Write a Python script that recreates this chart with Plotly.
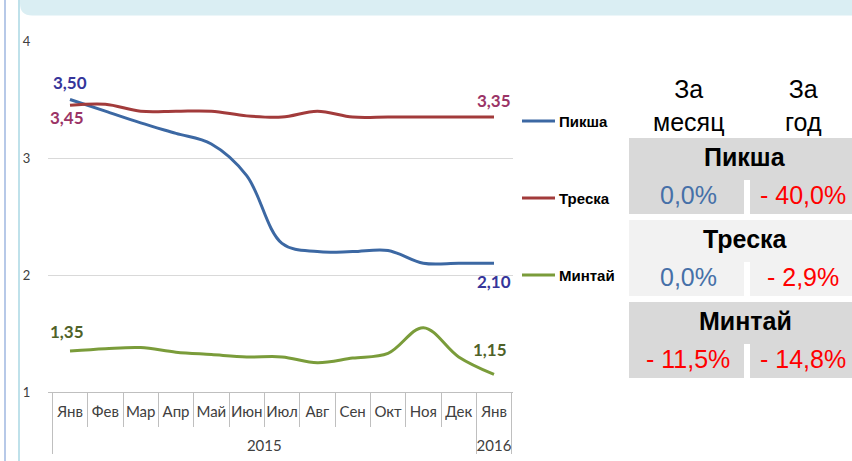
import plotly.graph_objects as go

# ---------------- data ----------------
months = ["Янв", "Фев", "Мар", "Апр", "Май", "Июн", "Июл", "Авг", "Сен", "Окт", "Ноя", "Дек", "Янв"]
years = ["2015"] * 12 + ["2016"]

piksha = [3.50, 3.40, 3.30, 3.21, 3.12, 2.85, 2.27, 2.20, 2.20, 2.21, 2.10, 2.10, 2.10]
treska = [3.45, 3.46, 3.40, 3.40, 3.40, 3.36, 3.35, 3.40, 3.35, 3.35, 3.35, 3.35, 3.35]
mintai = [1.35, 1.37, 1.38, 1.34, 1.32, 1.30, 1.30, 1.25, 1.29, 1.33, 1.55, 1.30, 1.15]

series_names = ["Пикша", "Треска", "Минтай"]
month_change = ["0,0%", "0,0%", "- 11,5%"]
year_change = ["- 40,0%", "- 2,9%", "- 14,8%"]

# ---------------- style ----------------
W, H = 852, 461
L, R, T, B = 48, 513, 41, 392   # plot area in px

line_colors = ["#3C68A3", "#A23B3B", "#7A9C3A"]
label_colors = ["#35359A", "#9B3466", "#4F6228"]
# (xshift, yshift) for first and last value labels
label_shift_first = [(0, 17), (-3, -12), (-3, 20)]
label_shift_last = [(0, -18), (0, 17), (-4, 25)]
series_values = [piksha, treska, mintai]


def px(x):
    return (x - L) / (R - L)


def py(y):
    return (B - y) / (B - T)


def fmt(v):
    return f"{v:.2f}".replace(".", ",")


fig = go.Figure()
# the year row sits one text line lower than its default position
xcats = [["<br>" + y for y in years], months]
annotations = []
for name, vals, lc, tc, s0, s1 in zip(series_names, series_values, line_colors,
                                      label_colors, label_shift_first, label_shift_last):
    fig.add_trace(go.Scatter(
        x=xcats, y=vals, name=name, mode="lines",
        line=dict(color=lc, width=3, shape="spline", smoothing=1.0),
        showlegend=False, hoverinfo="skip",
    ))
    for idx, (sx, sy) in [(0, s0), (len(vals) - 1, s1)]:
        annotations.append(dict(xref="x", yref="y", x=idx, y=vals[idx], text=f"<b>{fmt(vals[idx])}</b>",
                                showarrow=False, xanchor="center", yanchor="middle",
                                xshift=sx, yshift=sy,
                                font=dict(family="Lato", size=17, color=tc)))

shapes = []

# decorative frame: left vertical lines and top banner
shapes.append(dict(type="line", xref="paper", yref="paper", x0=px(5), x1=px(5), y0=py(-2), y1=py(H + 2),
                   line=dict(color="#B7C9E8", width=2)))
shapes.append(dict(type="line", xref="paper", yref="paper", x0=px(19), x1=px(19), y0=py(-2), y1=py(H + 2),
                   line=dict(color="#BFE1EA", width=2)))
rx, bot = 20, 15.5
path = (f"M {px(rx)},{py(-5)} L {px(W + 5)},{py(-5)} L {px(W + 5)},{py(bot)} "
        f"L {px(rx + 12)},{py(bot)} Q {px(rx)},{py(bot)} {px(rx)},{py(bot - 12)} Z")
shapes.append(dict(type="path", xref="paper", yref="paper", path=path,
                   fillcolor="#DAEEF3", line=dict(width=0), layer="below"))

# legend (custom positioned)
legend_y = [121, 198, 275]
for name, lc, yy in zip(series_names, line_colors, legend_y):
    shapes.append(dict(type="line", xref="paper", yref="paper", x0=px(522), x1=px(555),
                       y0=py(yy), y1=py(yy), line=dict(color=lc, width=3)))
    annotations.append(dict(xref="paper", yref="paper", x=px(557), y=py(yy), text=f"<b>{name}</b>",
                            showarrow=False, xanchor="left", yanchor="middle",
                            font=dict(family="Liberation Sans", size=15, color="#000000")))

# right-side table
col1, col2 = 688, 803
for txt, cx in [("За<br>месяц", col1), ("За<br>год", col2)]:
    annotations.append(dict(xref="paper", yref="paper", x=px(cx), y=py(105), text=txt,
                            showarrow=False, xanchor="center", yanchor="middle", align="center",
                            font=dict(family="Liberation Sans", size=25, color="#000000")))

block_tops = [138, 220, 302]
block_fill = ["#D9D9D9", "#F2F2F2", "#D9D9D9"]
for name, mc, yc, top, fill in zip(series_names, month_change, year_change, block_tops, block_fill):
    shapes.append(dict(type="rect", xref="paper", yref="paper", x0=px(629), x1=px(W + 5),
                       y0=py(top), y1=py(top + 76), fillcolor=fill, line=dict(width=0), layer="below"))
    shapes.append(dict(type="rect", xref="paper", yref="paper", x0=px(744), x1=px(750),
                       y0=py(top + 42), y1=py(top + 77), fillcolor="#FFFFFF", line=dict(width=0), layer="below"))
    annotations.append(dict(xref="paper", yref="paper", x=px(745), y=py(top + 19), text=f"<b>{name}</b>",
                            showarrow=False, xanchor="center", yanchor="middle",
                            font=dict(family="Liberation Sans", size=25, color="#000000")))
    for val, cx in [(mc, col1), (yc, col2)]:
        col = "#FF0000" if val.strip().startswith("-") else "#4670A8"
        annotations.append(dict(xref="paper", yref="paper", x=px(cx), y=py(top + 57), text=val,
                                showarrow=False, xanchor="center", yanchor="middle",
                                font=dict(family="Liberation Sans", size=25, color=col)))

fig.update_layout(
    width=W, height=H,
    margin=dict(l=L, r=W - R, t=T, b=H - B, pad=0, autoexpand=False),
    paper_bgcolor="#FFFFFF", plot_bgcolor="#FFFFFF",
    shapes=shapes, annotations=annotations,
    showlegend=False,
)
fig.update_yaxes(range=[1, 4], dtick=1, showgrid=True, gridcolor="#D9D9D9", gridwidth=1,
                 zeroline=False, showline=False, ticks="outside", ticklen=14, tickcolor="rgba(0,0,0,0)",
                 automargin=False,
                 tickfont=dict(family="Lato", size=13, color="#404040"), fixedrange=True)
fig.update_xaxes(type="multicategory", showline=True, linecolor="#BFBFBF", linewidth=1,
                 ticks="outside", tickson="boundaries", ticklen=34, tickcolor="#BFBFBF",
                 ticklabelstandoff=6, tickangle=0, automargin=False,
                 showdividers=True, dividercolor="#BFBFBF", dividerwidth=1,
                 showgrid=False, zeroline=False,
                 tickfont=dict(family="Lato", size=15, color="#404040"), fixedrange=True)

fig.write_html("out.html", config={"displayModeBar": False},
               post_script="document.body.style.margin='0px';")
